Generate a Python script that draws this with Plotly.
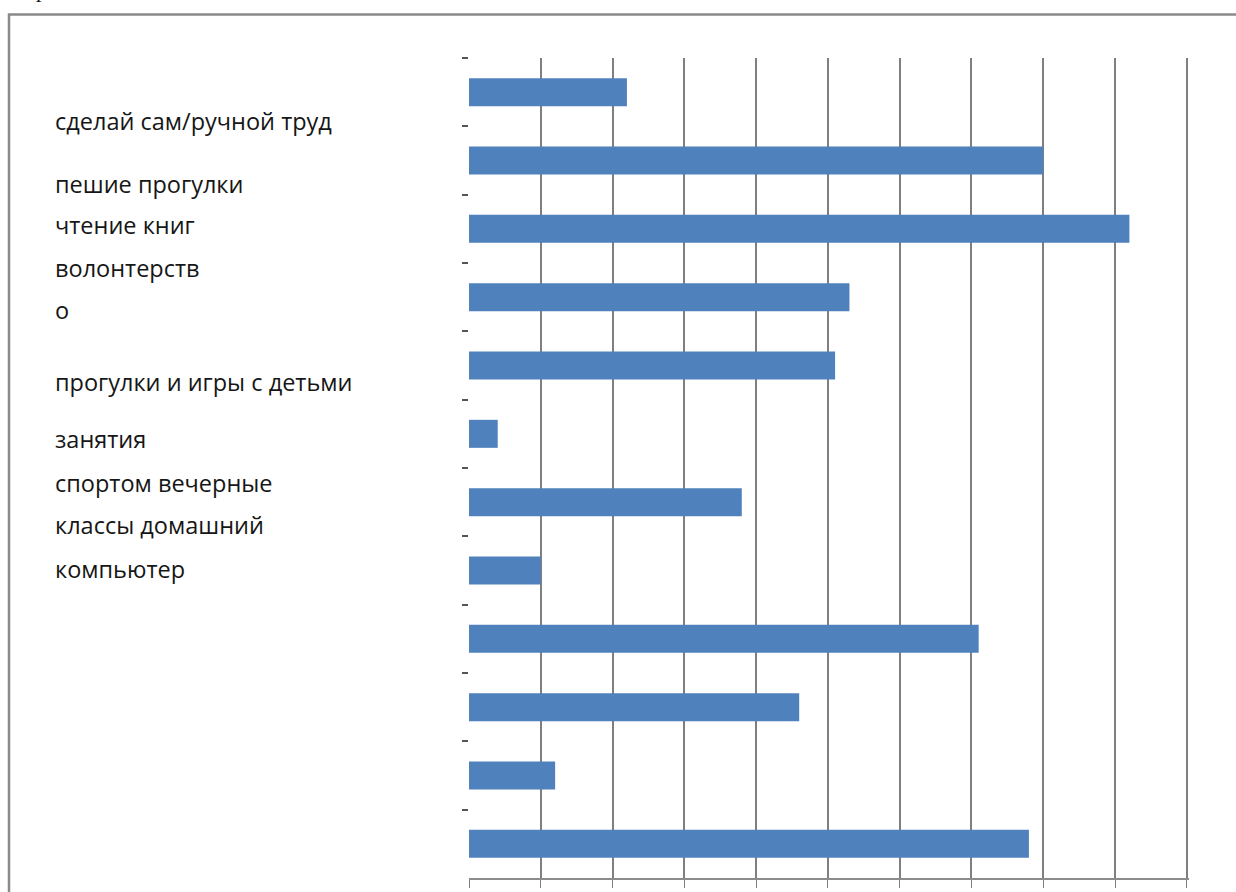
import plotly.graph_objects as go

# bar values, top to bottom (gridline step = 1)
bar_ids = ["1", "2", "3", "4", "5", "6", "7", "8", "9", "10", "11", "12"]
bar_values = [2.2, 8.0, 9.2, 5.3, 5.1, 0.4, 3.8, 1.0, 7.1, 4.6, 1.2, 7.8]

# text lines that sit at the left of the chart
label_lines = [
    "сделай сам/ручной труд",
    "пешие прогулки",
    "чтение книг",
    "волонтерств",
    "о",
    "прогулки и игры с детьми",
    "занятия",
    "спортом вечерные",
    "классы домашний",
    "компьютер",
]

W, H = 1236, 892
L, R, T, B = 469, 1189, 58, 886   # plot area in pixels


def px(x):
    return (x - L) / (R - L)


def py(y):
    return (B - y) / (B - T)


label_y = [122, 185, 227, 270, 312, 385, 443, 487, 530, 574]

fig = go.Figure()
fig.add_trace(go.Bar(
    x=bar_values, y=bar_ids, orientation="h",
    marker=dict(color="#4f81bd", line=dict(width=0)),
    hoverinfo="x",
))

annotations = []
for text, yy in zip(label_lines, label_y):
    annotations.append(dict(
        text=text, xref="paper", yref="paper", x=px(53), y=py(yy),
        xanchor="left", yanchor="middle", showarrow=False,
        font=dict(family="Open Sans", size=23.5, color="#161616"),
    ))
# fragment of a letter above the frame
annotations.append(dict(
    text="р", xref="paper", yref="paper", x=px(41), y=py(3),
    xanchor="center", yanchor="bottom", showarrow=False,
    font=dict(family="Liberation Serif", size=22, color="#111"),
))

fig.update_layout(
    width=W, height=H,
    margin=dict(l=L, r=W - R, t=T, b=H - B, pad=0),
    paper_bgcolor="white", plot_bgcolor="white",
    showlegend=False,
    bargap=0.59,
    annotations=annotations,
    xaxis=dict(
        range=[0, 10.03], dtick=1, showgrid=True, gridcolor="#7f7f7f", gridwidth=1.5,
        zeroline=False, showline=True, linecolor="#8c8c8c", linewidth=1.5,
        ticks="outside", ticklen=8, tickcolor="#7f7f7f", showticklabels=False,
    ),
    yaxis=dict(
        type="category", autorange="reversed", showgrid=False, zeroline=False,
        showline=False, ticks="outside", tickson="boundaries", ticklen=6,
        tickwidth=2, tickcolor="#555555", showticklabels=False,
    ),
    shapes=[dict(
        type="rect", xref="paper", yref="paper",
        x0=px(9), x1=px(1245), y0=py(905), y1=py(14),
        line=dict(color="#8a8a8a", width=2.5), layer="below",
    )],
)

fig.write_html("out.html", config={"displayModeBar": False},
               post_script="document.body.style.margin='0';")
